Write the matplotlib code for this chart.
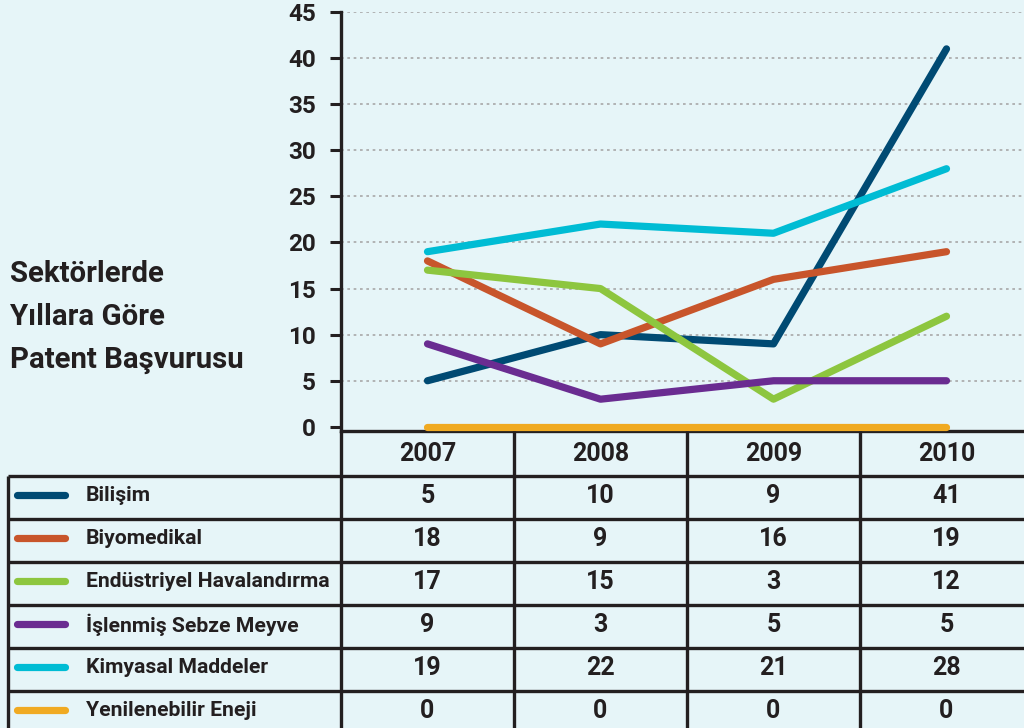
import matplotlib
matplotlib.use("Agg")
import matplotlib.pyplot as plt
from matplotlib import transforms

years = ["2007", "2008", "2009", "2010"]
series_names = ["Bilişim", "Biyomedikal", "Endüstriyel Havalandırma",
                "İşlenmiş Sebze Meyve", "Kimyasal Maddeler", "Yenilenebilir Eneji"]
bilisim = [5, 10, 9, 41]
biyomedikal = [18, 9, 16, 19]
endustriyel = [17, 15, 3, 12]
islenmis = [9, 3, 5, 5]
kimyasal = [19, 22, 21, 28]
yenilenebilir = [0, 0, 0, 0]
series_values = [bilisim, biyomedikal, endustriyel, islenmis, kimyasal, yenilenebilir]
colors = ["#004a73", "#c8552b", "#8dc63f", "#6a2c91", "#00bcd4", "#f0aa22"]
yticks = [0, 5, 10, 15, 20, 25, 30, 35, 40, 45]
title_lines = ["Sektörlerde", "Yıllara Göre", "Patent Başvurusu"]

BG = "#e6f5f8"
INK = "#231f20"
FONT = "Roboto"
WT = 600
plt.rcParams["font.family"] = [FONT, "DejaVu Sans"]

W, H = 1024, 728
fig = plt.figure(figsize=(W / 100, H / 100), dpi=100, facecolor=BG)

# main plot axes (pixel box: x 341..1024, y 12..431)
x0, x1, ytop, ybot = 341, 1024, 12, 431
ax = fig.add_axes([x0 / W, (H - ybot) / H, (x1 - x0) / W, (ybot - ytop) / H])
ax.set_facecolor(BG)
xs = list(range(len(years)))
for vals, c in zip(series_values, colors):
    ax.plot(xs, vals, color=c, lw=5.2, solid_capstyle="round", solid_joinstyle="round",
            zorder=3, clip_on=False)
ax.set_xlim(-0.5, 3.448)
ax.set_ylim(-0.45, 45)
ax.set_yticks(yticks)
ax.set_yticklabels([str(v) for v in yticks], fontsize=17.5, color=INK, fontweight=WT)
ax.set_xticks([])
for yv in yticks[1:]:
    ax.axhline(yv, color="#a8a8a8", lw=1.2, ls=(0, (1.6, 2.2)), zorder=1)
ax.tick_params(axis="y", direction="out", length=8, width=2.2, color=INK, pad=10)
for s in ["top", "right"]:
    ax.spines[s].set_visible(False)
ax.spines["left"].set_linewidth(2.4)
ax.spines["left"].set_color(INK)
ax.spines["bottom"].set_linewidth(2.4)
ax.spines["bottom"].set_color(INK)

# overlay for table in pixel coordinates
ov = fig.add_axes([0, 0, 1, 1], zorder=5)
ov.set_xlim(0, W)
ov.set_ylim(H, 0)
ov.axis("off")
ov.patch.set_alpha(0)
bt = transforms.blended_transform_factory(ax.transData, ov.transData)

lw_t = 2.4
header_top, header_bot = 431, 476
row_h = 43
rows_top = [header_bot + i * row_h for i in range(len(series_names))]
# horizontal lines
for yy in rows_top:
    ov.plot([8, W], [yy, yy], color=INK, lw=lw_t, solid_capstyle="butt")
# vertical lines
ov.plot([8, 8], [header_bot, H], color=INK, lw=lw_t, solid_capstyle="butt")
for xb in [-0.5, 0.5, 1.5, 2.5]:
    ov.plot([xb, xb], [header_top, H], color=INK, lw=lw_t, solid_capstyle="butt",
            transform=bt)

# header years
for i, yr in enumerate(years):
    ov.text(i, (header_top + header_bot) / 2 - 2, yr, transform=bt, ha="center",
            va="center_baseline", fontsize=18, color=INK, fontweight=WT)

# rows
for r, (name, vals, c) in enumerate(zip(series_names, series_values, colors)):
    yc = rows_top[r] + row_h / 2
    ov.plot([17, 65], [yc - 3, yc - 3], color=c, lw=5.2, solid_capstyle="round")
    ov.text(86, yc - 4, name, ha="left", va="center_baseline", fontsize=15.2, color=INK,
            fontweight=WT)
    for i, v in enumerate(vals):
        ov.text(i, yc - 4, str(v), transform=bt, ha="center", va="center_baseline",
                fontsize=18, color=INK, fontweight=WT)

# title
for k, t in enumerate(title_lines):
    ov.text(10, 271 + k * 43, t, ha="left", va="center_baseline", fontsize=21.2, color=INK,
            fontweight=WT)

fig.savefig("out.png", dpi=100, facecolor=BG)
